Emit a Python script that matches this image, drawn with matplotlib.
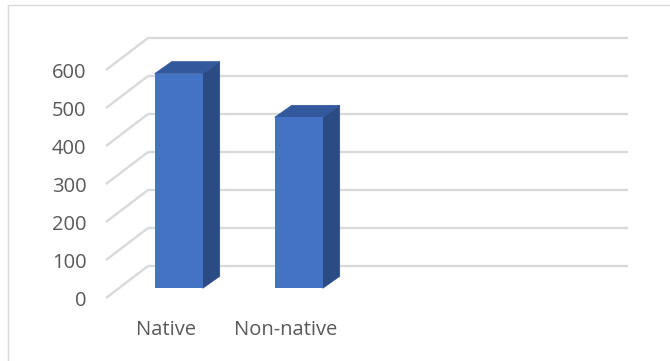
import matplotlib
matplotlib.use("Agg")
import matplotlib.pyplot as plt
from matplotlib.patches import Polygon, Rectangle
from matplotlib.transforms import ScaledTranslation

categories = ["Native", "Non-native"]
values = [565, 450]
y_ticks = [0, 100, 200, 300, 400, 500, 600]

FRONT = "#4472C4"
TOP = "#34589C"
SIDE = "#2B4B85"
GRID = "#D9D9D9"
TEXT = "#595959"

plt.rcParams["font.family"] = ["Open Sans", "DejaVu Sans"]

W, H, DPI = 670, 361, 100
fig = plt.figure(figsize=(W / DPI, H / DPI), dpi=DPI)

# front plane of the pseudo-3D box
ax = fig.add_axes([106 / W, (H - 298) / H, 480 / W, 228 / H])
ax.set_xlim(-0.5, 3.5)
ax.set_ylim(0, 600)
for s in ax.spines.values():
    s.set_visible(False)
ax.patch.set_alpha(0)

px_x = 480 / 4.0        # pixels per x unit
px_y = 228 / 600.0      # pixels per y unit

# back plane offset (pixels)
back_dx, back_dy = 42, 32
bdx, bdy = back_dx / px_x, back_dy / px_y
x0, x1 = ax.get_xlim()

for t in y_ticks:
    ax.plot([x0, x0 + bdx], [t, t + bdy], color=GRID, lw=1.7, clip_on=False, zorder=1,
            solid_capstyle="butt")
    ax.plot([x0 + bdx, x1 + bdx], [t + bdy, t + bdy], color=GRID, lw=1.7, clip_on=False,
            zorder=1, solid_capstyle="butt")

# bar plane offset
bar_off = ax.transData + ScaledTranslation(12.7 / DPI, 9.7 / DPI, fig.dpi_scale_trans)
depth_dx, depth_dy = 17 / px_x, 12 / px_y
width = 0.4
xs = list(range(len(categories)))

for x, v in zip(xs, values):
    l, r = x - width / 2, x + width / 2
    side = Polygon([(r, 0), (r + depth_dx, depth_dy), (r + depth_dx, v + depth_dy), (r, v)],
                   closed=True, facecolor=SIDE, edgecolor=SIDE, lw=0.5, transform=bar_off,
                   clip_on=False, zorder=3)
    top = Polygon([(l, v), (l + depth_dx, v + depth_dy), (r + depth_dx, v + depth_dy), (r, v)],
                  closed=True, facecolor=TOP, edgecolor=TOP, lw=0.5, transform=bar_off,
                  clip_on=False, zorder=3)
    ax.add_patch(side)
    ax.add_patch(top)

bars = ax.bar(xs, values, width=width, color=FRONT, zorder=4)
for b in bars:
    b.set_transform(bar_off)
    b.set_clip_on(False)

ax.set_yticks(y_ticks)
ax.set_yticklabels([str(t) for t in y_ticks])
ax.set_xticks(xs)
ax.set_xticklabels(categories)
ax.tick_params(axis="y", length=0, pad=14, labelsize=14.5, labelcolor=TEXT)
ax.tick_params(axis="x", length=0, pad=15.5, labelsize=14.5, labelcolor=TEXT)

# chart border
fig.patches.append(Rectangle((8 / W, -0.1), 1.2, 1.1 - 5 / H, transform=fig.transFigure,
                             fill=False, edgecolor=GRID, lw=1.0))

fig.savefig("out.png", dpi=DPI)
